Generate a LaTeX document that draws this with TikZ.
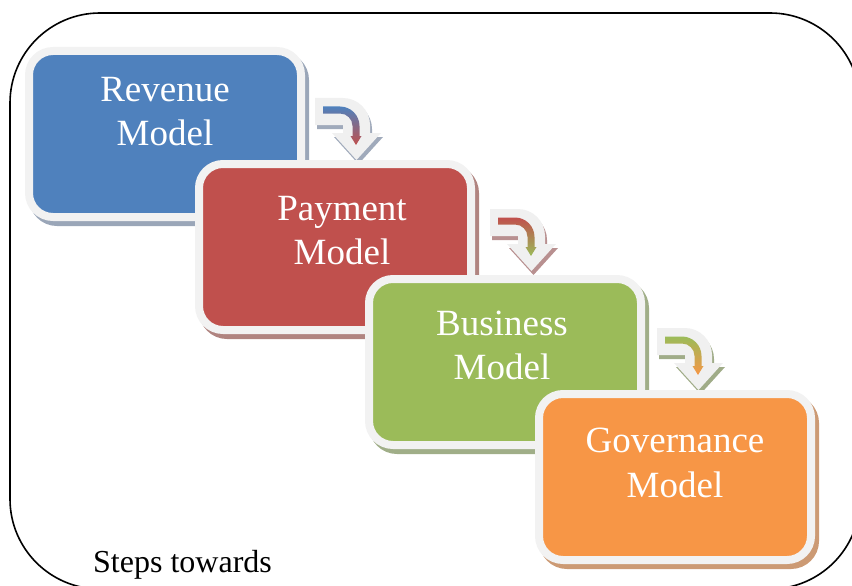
\documentclass[tikz,border=0pt]{standalone}
\usepackage{fontspec}
\setmainfont{Liberation Serif}
\usetikzlibrary{shadows}
\definecolor{cblue}{HTML}{4F81BD}
\definecolor{cred}{HTML}{C0504D}
\definecolor{cgreen}{HTML}{9BBB59}
\definecolor{corange}{HTML}{F79646}
\definecolor{cborder}{HTML}{F2F2F2}
\definecolor{sblue}{HTML}{9AA6B8}
\definecolor{sred}{HTML}{B08480}
\definecolor{sgreen}{HTML}{A0AE88}
\definecolor{sorange}{HTML}{CC9A74}
\definecolor{ablue}{HTML}{A0AABB}
\definecolor{ared}{HTML}{B89090}
\definecolor{agreen}{HTML}{A0AC88}
\definecolor{abody}{HTML}{F0F0F0}
\tikzset{
  stepbox/.style 2 args={rectangle, rounded corners=24pt, fill=#1, draw=cborder,
    line width=8pt, minimum width=272pt, minimum height=166pt, inner sep=0pt,
    general shadow={shadow xshift=4pt, shadow yshift=-5pt, fill=#2, draw=#2, line width=8pt}},
  boxtext/.style={text=white, font=\fontsize{37}{44}\selectfont, anchor=base, inner sep=0pt},
  frame/.style={draw=black, line width=1.6pt, rounded corners=90pt},
  pics/bentarrow/.style n args={3}{code={
    \fill[#3, shift={(2,-4)}] (0,0) -- (28,0) arc[start angle=90,end angle=0,radius=27]
      -- (55,-35) -- (66,-35) -- (41.5,-62) -- (17,-35) -- (28,-35) -- (28,-27) -- (0,-27) -- cycle;
    \fill[abody] (0,0) -- (28,0) arc[start angle=90,end angle=0,radius=27]
      -- (55,-35) -- (66,-35) -- (41.5,-62) -- (17,-35) -- (28,-35) -- (28,-27) -- (0,-27) -- cycle;
    \shade[top color=#1, bottom color=#2] (8,-8.5) -- (25,-8.5) arc[start angle=90,end angle=0,radius=19.5]
      -- (44.5,-38) -- (46.5,-38) -- (41,-47) -- (35.5,-38) -- (37.5,-38) -- (37.5,-28)
      arc[start angle=0,end angle=90,radius=12.5] -- (8,-15.5) -- cycle;
  }}
}
\begin{document}
\begin{tikzpicture}[x=1pt,y=1pt]
\useasboundingbox (0,0) rectangle (852,-586);
\clip (0,0) rectangle (852,-586);
\draw[frame] (10,-13) rectangle (860,-589);

\node[stepbox={cblue}{sblue}] (b1) at (165,-134) {};
\node[boxtext] (t1a) at (165,-102) {Revenue};
\node[boxtext] (t1b) at (165,-146) {Model};
\pic at (315,-98) {bentarrow={cblue}{cred}{ablue}};

\node[stepbox={cred}{sred}] (b2) at (335,-247) {};
\node[boxtext] (t2a) at (342,-220) {Payment};
\node[boxtext] (t2b) at (342,-264) {Model};
\pic at (490,-209) {bentarrow={cred}{cgreen}{ared}};

\node[stepbox={cgreen}{sgreen}] (b3) at (505,-362) {};
\node[boxtext] (t3a) at (502,-335) {Business};
\node[boxtext] (t3b) at (502,-379) {Model};
\pic at (657,-328) {bentarrow={cgreen}{corange}{agreen}};

\node[stepbox={corange}{sorange}] (b4) at (675,-477) {};
\node[boxtext] (t4a) at (675,-452) {Governance};
\node[boxtext] (t4b) at (675,-497) {Model};

\node[anchor=base west, inner sep=0pt, font=\fontsize{32}{38}\selectfont] (cap) at (93,-572) {Steps towards};
\end{tikzpicture}
\end{document}
